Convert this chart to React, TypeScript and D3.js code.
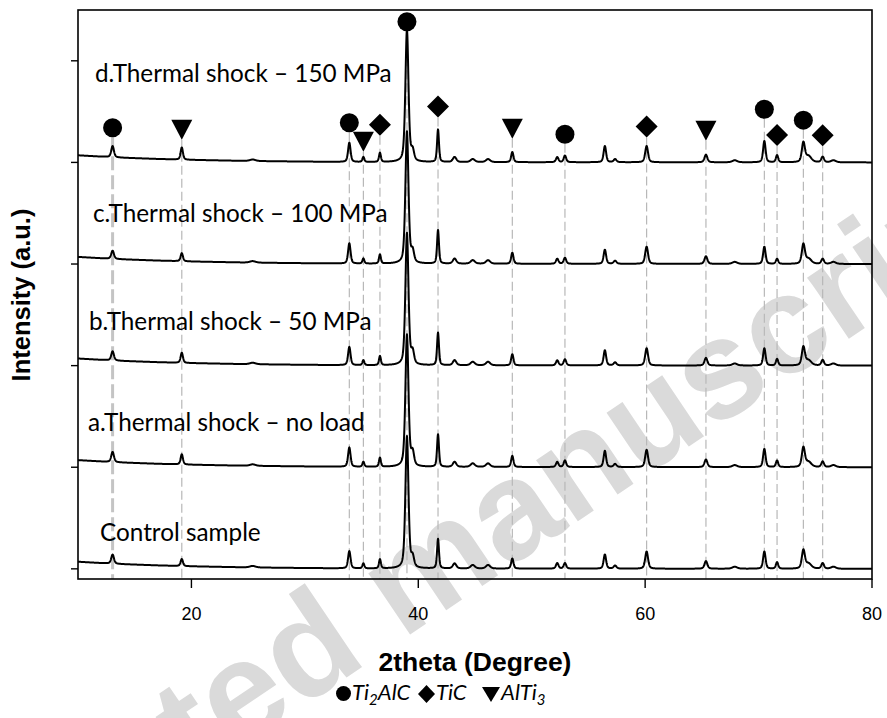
import React from "react";
import * as d3 from "d3";

const W = 887;
const H = 718;
const margin = { left: 78, right: 15, top: 10, bottom: 139 };

// Reflection positions (2θ, degrees) and half widths used to build each pattern
const peakTheta = [13.05, 19.15, 25.4, 33.92, 35.16, 36.62, 39.0, 39.5, 41.74, 43.2, 44.8, 46.15, 48.29, 52.25, 52.93, 56.45, 57.35, 60.13, 65.36, 67.9, 70.51, 71.63, 73.95, 74.4, 75.65, 76.6];
const peakWidth = [0.14, 0.12, 0.3, 0.13, 0.1, 0.1, 0.16, 0.15, 0.1, 0.18, 0.22, 0.22, 0.12, 0.13, 0.13, 0.13, 0.15, 0.15, 0.15, 0.25, 0.13, 0.12, 0.16, 0.3, 0.14, 0.25];

// Peak intensities per sample (normalised units; one unit per stacked pattern)
const controlHeights = [0.09, 0.07, 0.015, 0.17, 0.05, 0.09, 1.3, 0.1, 0.29, 0.05, 0.035, 0.035, 0.1, 0.055, 0.055, 0.14, 0.03, 0.17, 0.075, 0.02, 0.17, 0.065, 0.18, 0.05, 0.055, 0.02];
const noLoadHeights = [0.1, 0.1, 0.015, 0.19, 0.05, 0.09, 1.3, 0.13, 0.32, 0.05, 0.035, 0.035, 0.11, 0.05, 0.065, 0.16, 0.03, 0.17, 0.075, 0.02, 0.18, 0.065, 0.19, 0.05, 0.055, 0.02];
const mpa50Heights = [0.09, 0.1, 0.015, 0.18, 0.05, 0.09, 1.3, 0.12, 0.32, 0.05, 0.035, 0.035, 0.11, 0.05, 0.06, 0.15, 0.03, 0.17, 0.075, 0.02, 0.17, 0.065, 0.18, 0.05, 0.055, 0.02];
const mpa100Heights = [0.08, 0.08, 0.015, 0.2, 0.05, 0.09, 1.3, 0.11, 0.33, 0.05, 0.035, 0.035, 0.11, 0.05, 0.06, 0.14, 0.03, 0.17, 0.075, 0.02, 0.17, 0.05, 0.19, 0.05, 0.05, 0.02];
const mpa150Heights = [0.11, 0.12, 0.015, 0.19, 0.05, 0.09, 1.3, 0.1, 0.32, 0.05, 0.03, 0.03, 0.1, 0.05, 0.065, 0.16, 0.03, 0.16, 0.075, 0.02, 0.21, 0.07, 0.19, 0.06, 0.055, 0.02];

// Low-angle background level shared by the patterns
const backgroundTheta = [10, 12, 14, 17, 20, 25, 30, 35, 80];
const backgroundLevel = [0.07, 0.057, 0.046, 0.034, 0.025, 0.014, 0.008, 0.003, 0];

const sampleNames = [
  "Control sample",
  "a.Thermal shock – no load",
  "b.Thermal shock – 50 MPa",
  "c.Thermal shock – 100 MPa",
  "d.Thermal shock – 150 MPa",
];
const sampleHeights = [controlHeights, noLoadHeights, mpa50Heights, mpa100Heights, mpa150Heights];
const sampleOffset = [0, 1, 2, 3, 4];
const labelTheta = [11.94, 10.88, 10.97, 11.32, 11.5];
const labelLevel = [0.276, 1.36, 2.35, 3.41, 4.79];

// Phase identification markers
const phaseTheta = [13.05, 19.15, 33.92, 35.16, 36.62, 39.0, 41.74, 48.29, 52.93, 60.13, 65.36, 70.51, 71.63, 73.95, 75.65];
const phaseKind = ["Ti2AlC", "AlTi3", "Ti2AlC", "AlTi3", "TiC", "Ti2AlC", "TiC", "AlTi3", "Ti2AlC", "TiC", "AlTi3", "Ti2AlC", "TiC", "Ti2AlC", "TiC"];
const phaseLevel = [4.342, 4.321, 4.39, 4.203, 4.37, 5.384, 4.551, 4.331, 4.277, 4.353, 4.311, 4.523, 4.27, 4.416, 4.267];

const xTicks = [20, 40, 60, 80];
const yTicks = [0, 1, 2, 3, 4, 5];

const x = d3.scaleLinear().domain([10, 80]).range([margin.left, W - margin.right]);
const y = d3.scaleLinear().domain([-0.1, 5.5]).range([H - margin.bottom, margin.top]);
const background = d3.scaleLinear().domain(backgroundTheta).range(backgroundLevel);

function profile(t: number, heights: number[]) {
  let v = background(t);
  for (let i = 0; i < peakTheta.length; i++) {
    const u = (t - peakTheta[i]) / peakWidth[i];
    v += heights[i] * (0.45 / (1 + u * u) + 0.55 * Math.exp(-0.6931 * u * u));
  }
  return v;
}

const grid = d3.range(10, 80.0001, 0.02);
const line = d3
  .line<[number, number]>()
  .x((d) => x(d[0]))
  .y((d) => y(d[1]));

const SANS = "'Liberation Sans', Arial, sans-serif";
const HUMAN = "Lato, 'Open Sans', sans-serif";

function Marker({ kind, cx, cy }: { kind: string; cx: number; cy: number }) {
  if (kind === "Ti2AlC") return <circle cx={cx} cy={cy} r={9.5} fill="#000" />;
  if (kind === "TiC") {
    const a = 11;
    return <path d={`M${cx},${cy - a}L${cx + a},${cy}L${cx},${cy + a}L${cx - a},${cy}Z`} fill="#000" />;
  }
  const hw = 10.5;
  const hh = 10;
  return <path d={`M${cx - hw},${cy - hh}L${cx + hw},${cy - hh}L${cx},${cy + hh}Z`} fill="#000" />;
}

const markerHalf: Record<string, number> = { Ti2AlC: 9.5, TiC: 11, AlTi3: 10 };

export default function App() {
  const y0 = y(-0.1);
  return (
    <svg width={W} height={H} style={{ display: "block", position: "absolute", left: 0, top: 0, background: "#fff" }}>
      {/* watermark */}
      <g transform="translate(402,640) rotate(-34)" fill="#dadada" fontFamily={SANS} fontWeight="bold" fontSize={140}>
        <text x={-39} textAnchor="end">Accepted</text>
        <text x={0}>manuscript</text>
      </g>

      {/* reflection guide lines */}
      {phaseTheta.map((t, i) => {
        const thick = i === 0;
        return (
          <line
            key={"g" + i}
            x1={x(t)}
            x2={x(t)}
            y1={y(phaseLevel[i]) + markerHalf[phaseKind[i]]}
            y2={y0}
            stroke={thick ? "#c4c4c4" : "#b8b8b8"}
            strokeWidth={thick ? 3 : 1.2}
            strokeDasharray={thick ? "14,5" : "9,4"}
          />
        );
      })}

      {/* patterns */}
      {sampleHeights.map((hs, k) => (
        <path
          key={"p" + k}
          d={line(grid.map((t) => [t, sampleOffset[k] + profile(t, hs)] as [number, number])) || ""}
          fill="none"
          stroke="#000"
          strokeWidth={2}
          strokeLinejoin="round"
        />
      ))}

      {/* sample labels */}
      {sampleNames.map((n, k) => (
        <text key={"l" + k} x={x(labelTheta[k])} y={y(labelLevel[k])} fontFamily={HUMAN} fontSize={24.3} fill="#000">
          {n}
        </text>
      ))}

      {/* phase markers */}
      {phaseTheta.map((t, i) => (
        <Marker key={"m" + i} kind={phaseKind[i]} cx={x(t)} cy={y(phaseLevel[i])} />
      ))}

      {/* frame */}
      <rect
        x={margin.left}
        y={margin.top}
        width={W - margin.right - margin.left}
        height={y0 - margin.top}
        fill="none"
        stroke="#000"
        strokeWidth={1.6}
      />
      {yTicks.map((v) => (
        <line key={"yt" + v} x1={margin.left - 7} x2={margin.left} y1={y(v)} y2={y(v)} stroke="#000" strokeWidth={1.4} />
      ))}
      {xTicks.map((v) => (
        <g key={"xt" + v}>
          <line x1={x(v)} x2={x(v)} y1={y0} y2={y0 + 9} stroke="#000" strokeWidth={1.4} />
          <text x={x(v)} y={619.5} textAnchor="middle" fontFamily={SANS} fontSize={18} fill="#000">
            {v}
          </text>
        </g>
      ))}

      {/* axis titles */}
      <text x={(margin.left + W - margin.right) / 2} y={671} textAnchor="middle" fontFamily={SANS} fontWeight="bold" fontSize={26.5}>
        2theta (Degree)
      </text>
      <text transform="translate(30,295) rotate(-90)" textAnchor="middle" fontFamily={SANS} fontWeight="bold" fontSize={25.5}>
        Intensity (a.u.)
      </text>

      {/* legend */}
      <g fontFamily={HUMAN} fontStyle="italic" fontSize={22} fill="#000">
        <circle cx={343.5} cy={693.5} r={7.5} fill="#000" />
        <text x={352} y={700}>
          Ti<tspan fontSize={15} dy={5}>2</tspan>
          <tspan dy={-5}>AlC</tspan>
        </text>
        <path d="M426.5,685L435,694L426.5,703L418,694Z" fill="#000" />
        <text x={436} y={700}>TiC</text>
        <path d="M482,687L500,687L491,702Z" fill="#000" />
        <text x={501} y={700}>
          AlTi<tspan fontSize={15} dy={5}>3</tspan>
        </text>
      </g>
    </svg>
  );
}
